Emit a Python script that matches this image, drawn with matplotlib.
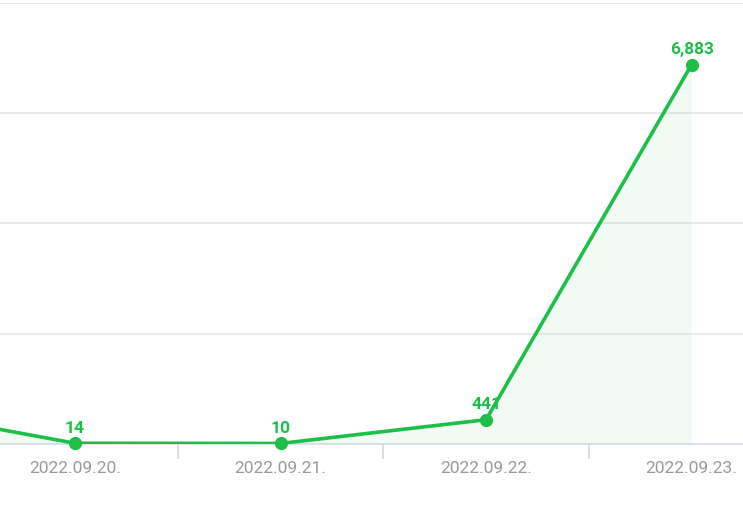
import matplotlib
matplotlib.use('Agg')
from matplotlib import pyplot as plt

# daily counts; the first day is just off the left edge of the crop
dates = ['2022.09.19.', '2022.09.20.', '2022.09.21.', '2022.09.22.', '2022.09.23.']
counts = [700, 14, 10, 441, 6883]
y_grid = [0, 2000, 4000, 6000, 8000]

green = '#1dbf48'
x = list(range(-1, len(dates) - 1))  # 09.20. sits at 0

plt.rcParams['font.family'] = ['Roboto', 'DejaVu Sans']

f1 = plt.figure(figsize=(7.43, 5.13), dpi=100)
ax = f1.add_axes([0, 69 / 513, 1, 441 / 513])
ax.set_xlim(-0.365, 3.25)
ax.set_ylim(0, 8000)

for g in y_grid[1:]:
	ax.axhline(g, color='#e6e6e6', lw=1.2, zorder=0)
ax.axhline(0, color='#dde2ec', lw=1.4, zorder=1, clip_on=False)

ax.fill_between(x, counts, 0, color=green, alpha=0.06, lw=0, zorder=1)
ax.plot(x, counts, color=green, lw=2.6, zorder=3, solid_capstyle='round')
ax.plot(x, counts, 'o', color=green, ms=8.5, zorder=4, clip_on=False)

for xi, c in zip(x, counts):
	if xi < ax.get_xlim()[0]:
		continue
	ax.annotate(f'{c:,}', (xi, c), xytext=(0, 5.5), textcoords='offset points',
				ha='center', va='bottom', color=green, fontsize=12.5, fontweight='bold', zorder=5)

ax.set_xticks(x[1:], dates[1:])
ax.set_xticks([0.5, 1.5, 2.5], minor=True)
ax.tick_params(axis='x', which='major', length=0, pad=12, labelsize=12.5, labelcolor='#9a9a9a')
ax.tick_params(axis='x', which='minor', length=11, width=1.2, color='#d3d8e3')
ax.set_yticks([])
for s in ax.spines.values():
	s.set_visible(False)

f1.savefig('out.png', dpi=100)
plt.close(f1)
